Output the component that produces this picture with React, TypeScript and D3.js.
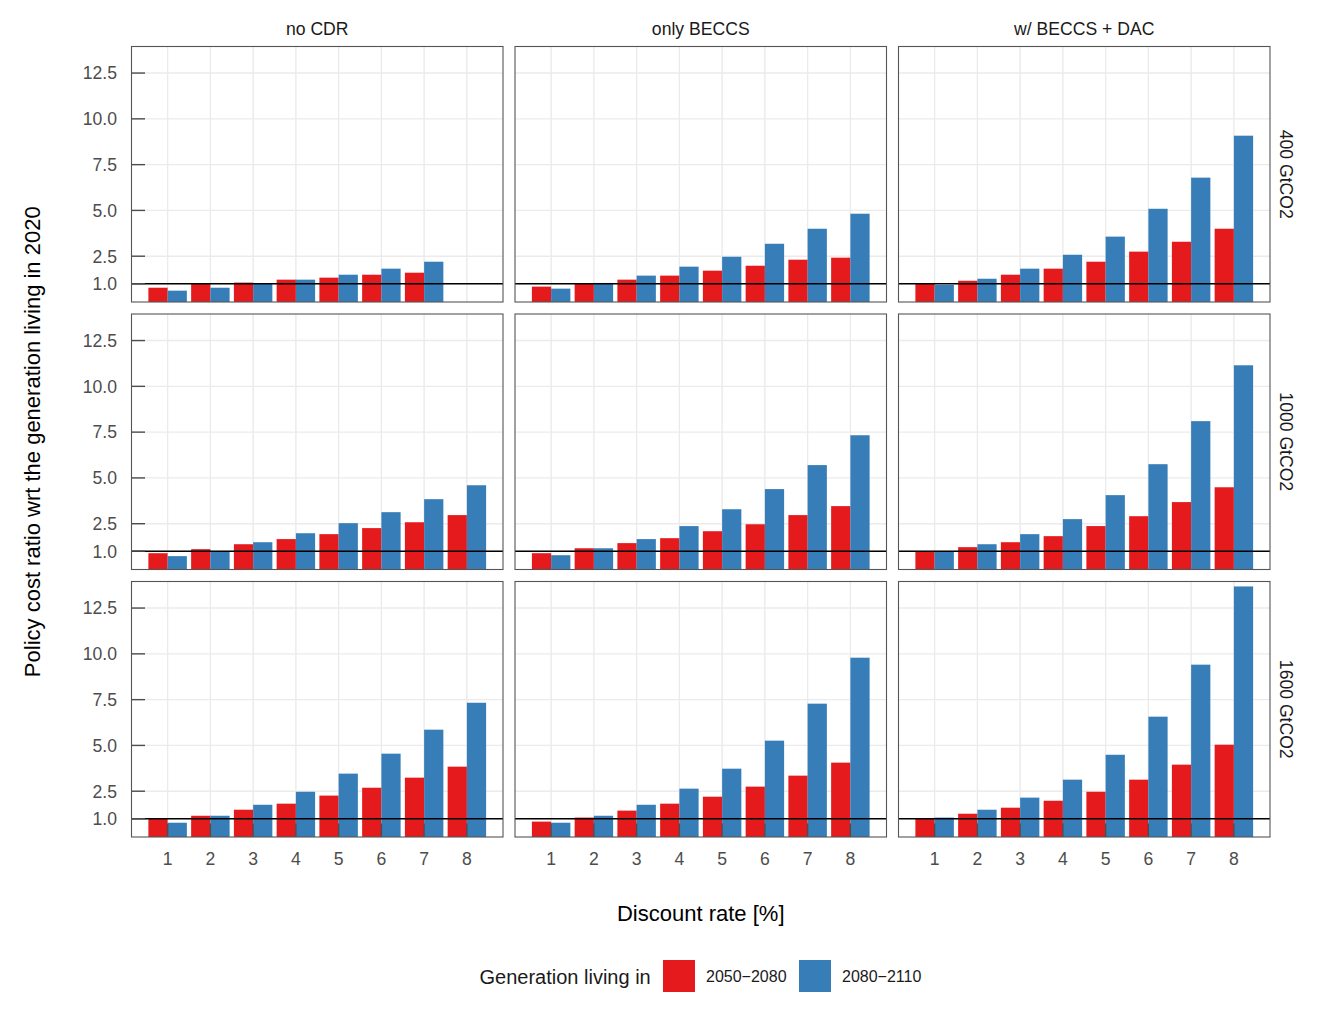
import React from "react";
import * as d3 from "d3";

// ---------- data ----------
const discountRates = [1, 2, 3, 4, 5, 6, 7, 8];
const cdrOptions = ["no CDR", "only BECCS", "w/ BECCS + DAC"];
const budgets = ["400 GtCO2", "1000 GtCO2", "1600 GtCO2"];
const generations = ["2050\u22122080", "2080\u22122110"];
const yBreaks = [1, 2.5, 5, 7.5, 10, 12.5];
const yBreakLabels = ["1.0", "2.5", "5.0", "7.5", "10.0", "12.5"];

// generation 2050-2080, [no CDR, only BECCS, w/ BECCS + DAC]
const red400 = [
  [0.78, 1.0, 1.06, 1.22, 1.33, 1.49, 1.6, null],
  [0.84, 1.0, 1.22, 1.44, 1.71, 1.98, 2.31, 2.42],
  [1.0, 1.16, 1.49, 1.82, 2.2, 2.75, 3.29, 4.0],
];
const blue400 = [
  [0.62, 0.78, 1.0, 1.22, 1.49, 1.82, 2.2, null],
  [0.73, 1.04, 1.44, 1.93, 2.47, 3.18, 4.0, 4.82],
  [0.93, 1.27, 1.82, 2.58, 3.57, 5.09, 6.79, 9.08],
];
const red1000 = [
  [0.89, 1.11, 1.38, 1.66, 1.93, 2.26, 2.58, 2.97],
  [0.89, 1.16, 1.44, 1.71, 2.09, 2.47, 2.97, 3.46],
  [1.0, 1.22, 1.49, 1.82, 2.37, 2.91, 3.68, 4.49],
];
const blue1000 = [
  [0.73, 0.98, 1.49, 1.98, 2.53, 3.13, 3.84, 4.6],
  [0.78, 1.16, 1.66, 2.37, 3.29, 4.39, 5.7, 7.33],
  [0.96, 1.38, 1.93, 2.75, 4.06, 5.75, 8.1, 11.15],
];
const red1600 = [
  [1.0, 1.16, 1.49, 1.82, 2.26, 2.69, 3.24, 3.84],
  [0.84, 1.06, 1.44, 1.82, 2.2, 2.75, 3.35, 4.06],
  [1.0, 1.27, 1.6, 1.98, 2.47, 3.13, 3.95, 5.04],
];
const blue1600 = [
  [0.78, 1.16, 1.76, 2.47, 3.46, 4.55, 5.86, 7.33],
  [0.78, 1.16, 1.76, 2.64, 3.73, 5.26, 7.28, 9.79],
  [1.06, 1.49, 2.15, 3.13, 4.49, 6.57, 9.41, 13.68],
];

const redByBudget = [red400, red1000, red1600];
const blueByBudget = [blue400, blue1000, blue1600];
const colors = ["#E41A1C", "#377EB8"];

// ---------- layout ----------
const W = 1322;
const H = 1024;
const left0 = 131.5;
const top0 = 46.5;
const panelW = 371.5;
const panelH = 255.5;
const gap = 12;
const font = "'Liberation Sans', Arial, Helvetica, sans-serif";

export default function App() {
  const x = d3.scaleLinear().domain([0.155, 8.845]).range([0, panelW]);
  const y = d3.scaleLinear().domain([0, 13.95]).range([panelH, 0]);
  const bw = x(1.45) - x(1);

  const panels: React.ReactNode[] = [];
  budgets.forEach((b, ri) => {
    cdrOptions.forEach((c, ci) => {
      const px = left0 + ci * (panelW + gap);
      const py = top0 + ri * (panelH + gap);
      const reds = redByBudget[ri][ci];
      const blues = blueByBudget[ri][ci];
      panels.push(
        <g key={`${ri}-${ci}`} transform={`translate(${px},${py})`}>
          <rect x={0} y={0} width={panelW} height={panelH} fill="#fff" />
          {yBreaks.map((v) => (
            <line key={"gy" + v} x1={0} x2={panelW} y1={y(v)} y2={y(v)} stroke="#ebebeb" strokeWidth={1.4} />
          ))}
          {discountRates.map((r) => (
            <line key={"gx" + r} x1={x(r)} x2={x(r)} y1={0} y2={panelH} stroke="#ebebeb" strokeWidth={1.4} />
          ))}
          {discountRates.map((r, i) =>
            reds[i] == null ? null : (
              <rect key={"r" + r} x={x(r) - bw} y={y(reds[i] as number)} width={bw} height={panelH - y(reds[i] as number)} fill={colors[0]} />
            )
          )}
          {discountRates.map((r, i) =>
            blues[i] == null ? null : (
              <rect key={"b" + r} x={x(r)} y={y(blues[i] as number)} width={bw} height={panelH - y(blues[i] as number)} fill={colors[1]} />
            )
          )}
          <line x1={0} x2={panelW} y1={y(1)} y2={y(1)} stroke="#000" strokeWidth={1.5} />
          {ci === 0 &&
            yBreaks.map((v) => (
              <line key={"ty" + v} x1={0} x2={13.5} y1={y(v)} y2={y(v)} stroke="#4d4d4d" strokeWidth={1.4} />
            ))}
          {ri === 2 &&
            discountRates.map((r) => (
              <line key={"tx" + r} x1={x(r)} x2={x(r)} y1={panelH} y2={panelH - 13.5} stroke="#4d4d4d" strokeWidth={1.4} />
            ))}
          <rect x={0} y={0} width={panelW} height={panelH} fill="none" stroke="#555" strokeWidth={1.1} />
          {ci === 0 &&
            yBreaks.map((v, i) => (
              <text key={"ly" + v} x={-14.5} y={y(v)} dy="0.36em" textAnchor="end" fontSize={17.6} fill="#4d4d4d" fontFamily={font}>
                {yBreakLabels[i]}
              </text>
            ))}
          {ri === 2 &&
            discountRates.map((r) => (
              <text key={"lx" + r} x={x(r)} y={panelH + 28} textAnchor="middle" fontSize={17.6} fill="#4d4d4d" fontFamily={font}>
                {r}
              </text>
            ))}
          {ri === 0 && (
            <text x={panelW / 2} y={-12} textAnchor="middle" fontSize={17.6} fill="#1a1a1a" fontFamily={font}>
              {c}
            </text>
          )}
          {ci === 2 && (
            <text
              transform={`translate(${panelW + 16},${panelH / 2}) rotate(90)`}
              textAnchor="middle"
              dy="0.36em"
              fontSize={17.6}
              fill="#1a1a1a"
              fontFamily={font}
            >
              {b}
            </text>
          )}
        </g>
      );
    });
  });

  const plotCenterX = left0 + (3 * panelW + 2 * gap) / 2;
  const plotCenterY = top0 + (3 * panelH + 2 * gap) / 2;

  return (
    <svg width={W} height={H} style={{ position: "absolute", left: 0, top: 0, background: "#fff" }}>
      <rect x={0} y={0} width={W} height={H} fill="#fff" />
      {panels}
      <text
        transform={`translate(32,${plotCenterY}) rotate(-90)`}
        textAnchor="middle"
        dy="0.36em"
        fontSize={22}
        fill="#000"
        fontFamily={font}
      >
        Policy cost ratio wrt the generation living in 2020
      </text>
      <text x={plotCenterX} y={921} textAnchor="middle" fontSize={22} fill="#000" fontFamily={font}>
        Discount rate [%]
      </text>
      <text x={479.5} y={977} dy="0.36em" fontSize={20} fill="#1a1a1a" fontFamily={font}>
        Generation living in
      </text>
      {generations.map((g, i) => {
        const kx = i === 0 ? 663 : 799;
        return (
          <g key={g}>
            <rect x={kx} y={960} width={32} height={32} fill={colors[i]} />
            <text x={kx + 43} y={976.5} dy="0.36em" fontSize={16} fill="#1a1a1a" fontFamily={font}>
              {g}
            </text>
          </g>
        );
      })}
    </svg>
  );
}
